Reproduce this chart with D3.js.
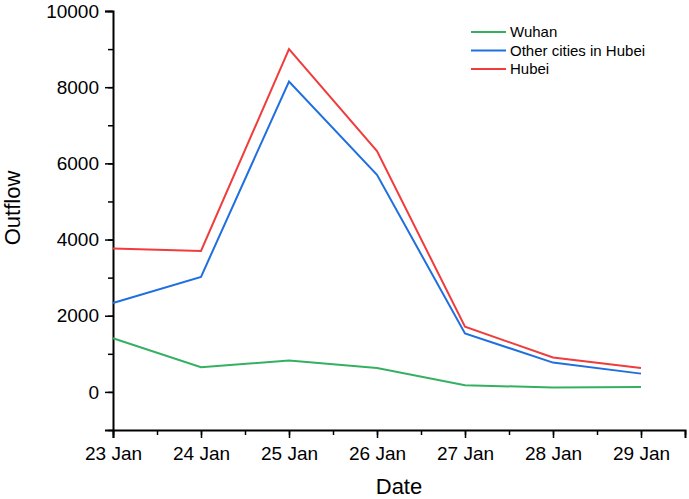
<!DOCTYPE html>
<html>
<head>
<meta charset="utf-8">
<script src="https://cdn.jsdelivr.net/npm/d3@7"></script>
<style>
  body { margin: 0; background: #fff; }
  text { font-family: "Liberation Sans", Arial, sans-serif; fill: #000; }
</style>
</head>
<body>
<div id="chart"></div>
<script>
const dates = ["23 Jan", "24 Jan", "25 Jan", "26 Jan", "27 Jan", "28 Jan", "29 Jan"];
const wuhan = [1410, 650, 825, 630, 175, 115, 130];
const otherCities = [2335, 3020, 8150, 5700, 1535, 770, 480];
const hubei = [3765, 3700, 9000, 6325, 1710, 905, 630];
const seriesNames = ["Wuhan", "Other cities in Hubei", "Hubei"];
const yTicks = [0, 2000, 4000, 6000, 8000, 10000];

let chart = { width: 689, height: 499 };
let colors = ["#35b063", "#1f6fe0", "#f03c3c"];

let svg = d3.select("#chart").append("svg")
  .attr("width", chart.width).attr("height", chart.height);

let x = d3.scaleLinear().domain([0, 6.5]).range([113, 685]);
let y = d3.scaleLinear().domain([-1000, 10000]).range([430, 11]);

// minor ticks
svg.append("g")
  .attr("transform", "translate(0,430)")
  .call(d3.axisBottom(x).tickValues(d3.range(0, 6.6, 0.5)).tickSize(5).tickFormat(""))
  .call(g => g.select(".domain").remove())
  .selectAll("line").attr("stroke-width", 1.5);
svg.append("g")
  .attr("transform", "translate(113,0)")
  .call(d3.axisLeft(y).tickValues(d3.range(-1000, 10001, 1000)).tickSize(5).tickFormat(""))
  .call(g => g.select(".domain").remove())
  .selectAll("line").attr("stroke-width", 1.5);

// major axes
let xAxis = svg.append("g")
  .attr("transform", "translate(0,430)")
  .call(d3.axisBottom(x).tickValues(d3.range(0, 7)).tickSize(8).tickPadding(9)
    .tickFormat(i => dates[i]));
let yAxis = svg.append("g")
  .attr("transform", "translate(113,0)")
  .call(d3.axisLeft(y).tickValues(yTicks).tickSize(8).tickPadding(6).tickFormat(d3.format("d")));

[xAxis, yAxis].forEach(a => {
  a.select(".domain").attr("stroke-width", 2);
  a.selectAll(".tick line").attr("stroke-width", 1.5);
  a.selectAll(".tick text").style("font-size", "19px");
});

svg.append("text")
  .attr("x", 399).attr("y", 494)
  .attr("text-anchor", "middle")
  .style("font-size", "22px")
  .text("Date");
svg.append("text")
  .attr("transform", "translate(20,208) rotate(-90)")
  .attr("text-anchor", "middle")
  .style("font-size", "22px")
  .text("Outflow");

let line = d3.line().x((d, i) => x(i)).y(d => y(d));
[wuhan, otherCities, hubei].forEach((s, k) => {
  svg.append("path")
    .attr("d", line(s))
    .attr("fill", "none")
    .attr("stroke", colors[k])
    .attr("stroke-width", 2);
});

// legend
let legend = svg.append("g").attr("transform", "translate(471,32)");
seriesNames.forEach((name, k) => {
  let row = legend.append("g").attr("transform", `translate(0,${k * 18.5})`);
  row.append("line").attr("x1", 0).attr("x2", 35)
    .attr("stroke", colors[k]).attr("stroke-width", 2);
  row.append("text").attr("x", 39).attr("dy", "0.35em")
    .style("font-size", "15px").text(name);
});
</script>
</body>
</html>
